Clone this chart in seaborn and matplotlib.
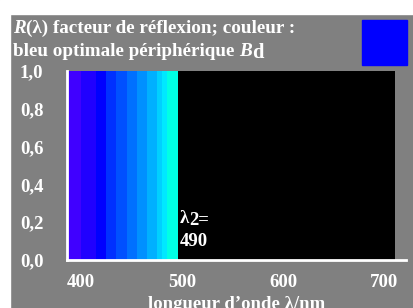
import matplotlib
matplotlib.use("Agg")
import matplotlib.pyplot as plt
import matplotlib.patches as mpatches
import seaborn as sns
import numpy as np

# Data
band_edges = [387, 400, 415, 425, 435, 445, 455, 465, 475, 480, 485, 496]
band_colors = ["#4000ff", "#2000ff", "#0000ff", "#0030ff", "#0050ff", "#0070ff",
               "#0090ff", "#00b0ff", "#00d0ff", "#00e8ff", "#00ffe4"]
band_reflectance = [1.0] * 11
dark_range = (496, 711)
x_ticks = [400, 500, 600, 700]
x_ticklabels = ["400", "500", "600", "700"]
y_ticks = [0.0, 0.2, 0.4, 0.6, 0.8, 1.0]
y_ticklabels = ["0,0", "0,2", "0,4", "0,6", "0,8", "1,0"]
lambda2 = 490

sns.set_theme(style="white")
plt.rcParams["font.family"] = ["Liberation Serif", "DejaVu Serif"]

W, H = 413, 308
GRAY = "#808080"
TFS = 13.5
fig = plt.figure(figsize=(W / 100, H / 100), dpi=100, facecolor=GRAY)
# white margins top and left
fig.patches.append(mpatches.Rectangle((0, 1 - 14 / H), 1, 14 / H,
                                      transform=fig.transFigure, color="white", zorder=-5))
fig.patches.append(mpatches.Rectangle((0, 0), 10 / W, 1,
                                      transform=fig.transFigure, color="white", zorder=-5))

ax = fig.add_axes([67 / W, 48 / H, 339.4 / W, 189 / H])
ax.set_facecolor(GRAY)
ax.patch.set_alpha(0)

ax.axvspan(dark_range[0], dark_range[1], ymin=0, ymax=1, color="black", zorder=0.5, lw=0)

edges = np.array(band_edges)
centers = (edges[:-1] + edges[1:]) / 2
sns.histplot(x=centers, weights=band_reflectance, bins=band_edges, ax=ax,
             element="bars", fill=True, linewidth=0, alpha=1, zorder=1)
for p, c in zip(ax.patches[1:], band_colors):
    p.set_facecolor(c)
    p.set_edgecolor(c)

ax.set_xlim(386, 722)
ax.set_ylim(0, 1)
ax.set_xticks(x_ticks)
ax.set_xticklabels(x_ticklabels)
ax.set_yticks(y_ticks)
ax.set_yticklabels(y_ticklabels)
ax.set_ylabel("")
ax.set_xlabel("longueur d’onde λ/nm", color="white", fontsize=TFS, fontweight="bold", labelpad=4)

for s in ["top", "right"]:
    ax.spines[s].set_visible(False)
for s in ["left", "bottom"]:
    ax.spines[s].set_color("white")
    ax.spines[s].set_linewidth(2)
    ax.spines[s].set_zorder(3)

ax.tick_params(axis="x", direction="inout", length=7.5, width=2, color="white",
               labelcolor="white", labelsize=TFS, pad=6)
ax.tick_params(axis="y", direction="out", length=4, width=2, color="white",
               labelcolor="white", labelsize=TFS, pad=13)
for lab in ax.get_xticklabels() + ax.get_yticklabels():
    lab.set_fontweight("bold")

fig.canvas.draw()
r = fig.canvas.get_renderer()

lam_x = lambda2 + 7.5
t1 = ax.text(lam_x, 0.196, "λ", color="white", fontsize=TFS, fontweight="bold",
             ha="left", va="baseline", zorder=4)
bb = t1.get_window_extent(r)
x2 = ax.transData.inverted().transform((bb.x1, 0))[0]
ax.text(x2, 0.185, "2=", color="white", fontsize=TFS, fontweight="bold",
        ha="left", va="baseline", zorder=4)
ax.text(lam_x, 0.074, str(lambda2), color="white", fontsize=TFS, fontweight="bold",
        ha="left", va="baseline", zorder=4)

FS = 13.8


def seq(parts, x0, y):
    x = x0
    for txt, kw, dy, fs in parts:
        t = fig.text(x / W, 1 - (y + dy) / H, txt, color="white", fontsize=fs,
                     fontweight="bold", ha="left", va="baseline", **kw)
        bb = t.get_window_extent(r)
        x = bb.x1


seq([("R", {"style": "italic"}, 0, FS), ("(λ) facteur de réflexion; couleur :", {}, 0, FS)], 13, 33)
seq([("bleu optimale périphérique ", {}, 0, FS), ("B", {"style": "italic"}, 0, FS),
     ("d", {}, 2, FS + 1)], 13, 56.5)

fig.patches.append(mpatches.Rectangle((362 / W, 1 - 65 / H), 45 / W, 45 / H,
                                      transform=fig.transFigure, color="#0000ff", zorder=2))

fig.savefig("out.png", dpi=100, facecolor=GRAY)
